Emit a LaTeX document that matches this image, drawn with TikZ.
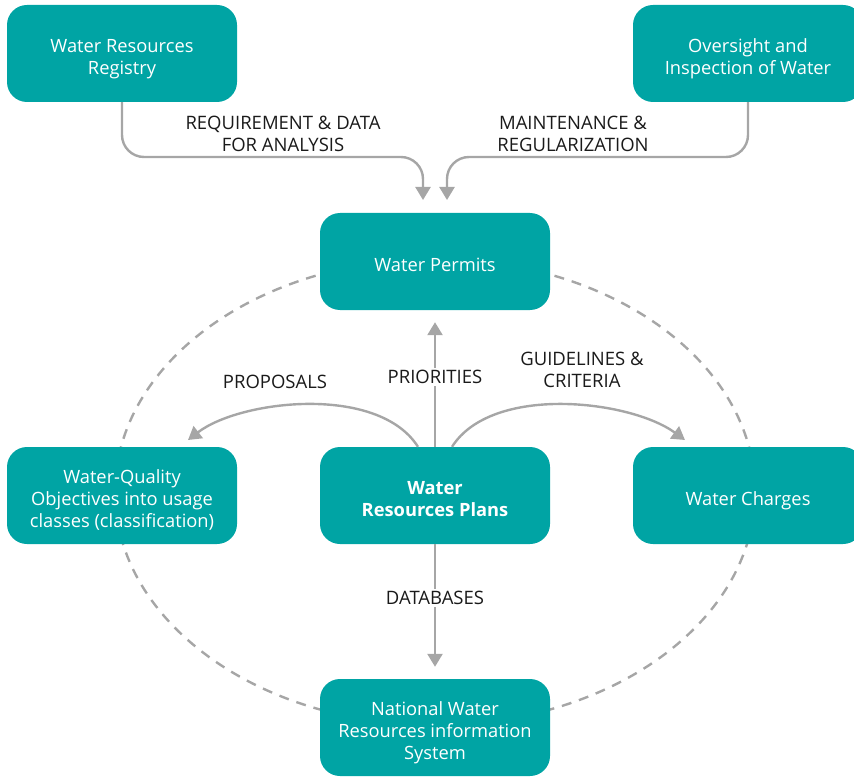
\documentclass[tikz,border=0pt]{standalone}
\usepackage{fontspec}
\setmainfont{Open Sans}
\usetikzlibrary{arrows.meta}
\definecolor{boxteal}{HTML}{00A4A4}
\definecolor{linegray}{HTML}{A6A6A6}
\definecolor{labelink}{HTML}{1A1A1A}
\begin{document}
\begin{tikzpicture}[x=1pt,y=-1pt,
  box/.style={fill=boxteal, rounded corners=20pt, minimum width=230pt,
    minimum height=97pt, inner sep=0pt},
  boxtext/.style={text=white, align=center, inner sep=0pt, text depth=0pt,
    yshift=-3pt, font=\fontsize{18.3}{22}\selectfont},
  link/.style={draw=linegray, line width=2.4pt,
    -{Triangle[width=15pt,length=13pt]}},
  lbl/.style={font=\fontsize{18.5}{22}\selectfont, text=labelink,
    align=center, inner sep=2pt},
  cycle/.style={draw=linegray, line width=2.4pt, dash pattern=on 10pt off 8pt}
]
\useasboundingbox (0,0) rectangle (854,778);
\clip (0,0) rectangle (854,778);

% dashed ring behind the permit cycle
\draw[cycle] (435,492) ellipse [x radius=320pt, y radius=233pt];

% boxes, each with its caption as a centred label
\node[box, label={[boxtext]center:{Water Resources\\Registry}}] (reg) at (122,53.5) {};
\node[box, label={[boxtext]center:{Oversight and\\Inspection of Water}}] (ovs) at (748,53.5) {};
\node[box, label={[boxtext]center:{Water Permits}}] (perm) at (435,261.5) {};
\node[box, label={[boxtext]center:{Water-Quality\\Objectives into usage\\classes (classification)}}] (wq) at (122,495.5) {};
\node[box, label={[boxtext, font=\fontsize{18.3}{22}\selectfont\bfseries]center:{Water\\Resources Plans}}] (plan) at (435,495.5) {};
\node[box, label={[boxtext]center:{Water Charges}}] (chg) at (748,495.5) {};
\node[box, label={[boxtext]center:{National Water\\Resources information\\System}}] (nat) at (435,727.5) {};

% free ends of the curved connectors
\coordinate (inL)  at (423,200);
\coordinate (inR)  at (447,200);
\coordinate (wqin) at (188,440);
\coordinate (chin) at (685,440);

% inputs to the permits
\draw[link, rounded corners=22pt] (reg.south) |- (423,157) -- (inL);
\draw[link, rounded corners=22pt] (ovs.south) |- (447,157) -- (inR);

% outputs of the plans
\draw[link, shorten >=12pt] (plan.north) -- (perm.south);
\draw[link, shorten >=12pt] (plan.south) -- (nat.north);
\draw[link] ([xshift=-17pt]plan.north) .. controls (378,384) and (240,400) .. (wqin);
\draw[link] ([xshift=17pt]plan.north) .. controls (492,384) and (630,400) .. (chin);

% connector labels
\node[lbl] (l1) at (283,134) {REQUIREMENT \& DATA\\FOR ANALYSIS};
\node[lbl] (l2) at (573,134) {MAINTENANCE \&\\REGULARIZATION};
\node[lbl] (l3) at (275,382) {PROPOSALS};
\node[lbl, fill=white] (l4) at (435,377) {PRIORITIES};
\node[lbl] (l5) at (582,370) {GUIDELINES \&\\CRITERIA};
\node[lbl, fill=white] (l6) at (435,598) {DATABASES};
\end{tikzpicture}
\end{document}
